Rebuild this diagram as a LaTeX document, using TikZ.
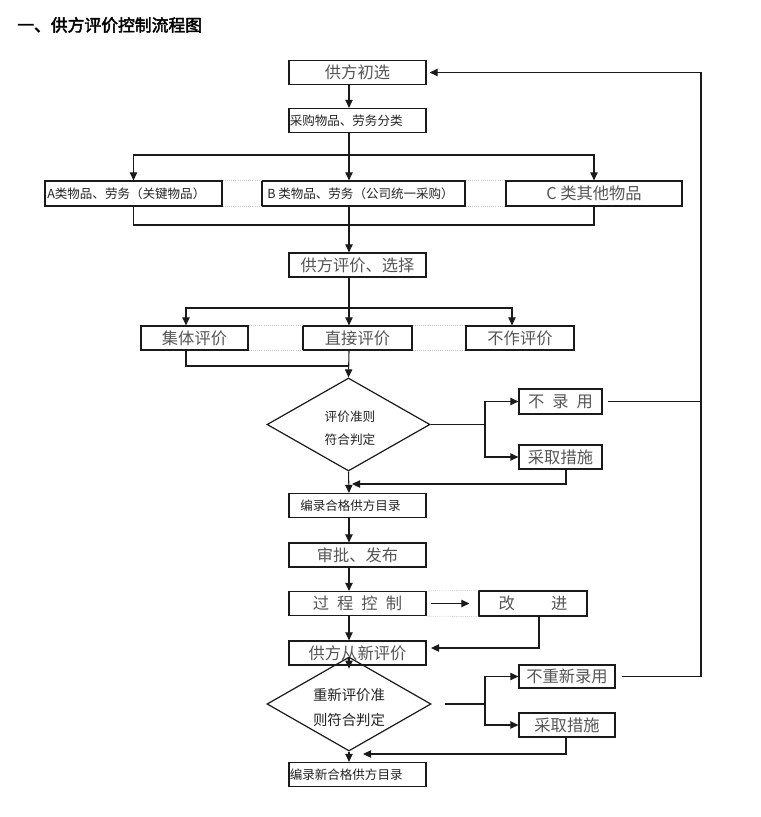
\documentclass[tikz,border=0pt]{standalone}
\usepackage{fontspec}
\setmainfont{Noto Sans CJK SC}
\newfontfamily\titlefont[FakeBold=2.5]{Noto Sans CJK SC}
\usetikzlibrary{shapes.geometric,arrows.meta,calc}
\definecolor{txt}{HTML}{555555}
\definecolor{dk}{HTML}{222222}
\definecolor{lnc}{HTML}{1A1A1A}
\definecolor{dotc}{HTML}{C4C4C4}
\begin{document}
\begin{tikzpicture}[x=0.75pt,y=-0.75pt,
  box/.style={draw=lnc, line width=0.9pt, rectangle, inner sep=0pt, text=txt, font=\fontsize{12.2}{14}\selectfont},
  colbox/.style={box, minimum width=102.75pt, minimum height=18pt},
  dia/.style={diamond, draw=lnc, line width=0.9pt, inner sep=0pt},
  smalltxt/.style={text=dk, inner sep=0pt, font=\fontsize{9.4}{11}\selectfont},
  arr/.style={draw=lnc, line width=0.8pt, -{Triangle[length=6pt,width=5.5pt]}},
  plain/.style={draw=lnc, line width=0.8pt},
  dotl/.style={draw=dotc, line width=0.6pt, densely dotted}]
\useasboundingbox (0,0) rectangle (760,817);

\node[anchor=west, inner sep=0pt, font=\titlefont\fontsize{12.6}{14}\selectfont] (title) at (17,25) {一、供方评价控制流程图};

% boxes
\node[colbox] (b1) at (357.5,72.5) {供方初选};
\node[colbox] (b2) at (357.5,120.5) {};
\node[smalltxt, anchor=west] (b2t) at (289.5,120.5) {采购物品、劳务分类};
\node[box, minimum width=132.75pt, minimum height=18.75pt] (ba) at (133.5,193.5) {};
\node[smalltxt, anchor=west] (bat) at (47,193.5) {A类物品、劳务（关键物品）};
\node[box, minimum width=152.25pt, minimum height=18.75pt] (bb) at (363.5,193.5) {};
\node[smalltxt, anchor=west] (bbt) at (267,193.5) {B 类物品、劳务（公司统一采购）};
\node[box, minimum width=132pt, minimum height=18.75pt] (bc) at (594,193.5) {C 类其他物品};
\node[colbox] (b3) at (357.5,265) {供方评价、选择};
\node[box, minimum width=80.25pt, minimum height=18pt] (e1) at (194.5,338) {集体评价};
\node[box, minimum width=81.75pt, minimum height=18pt] (e2) at (357.5,338) {直接评价};
\node[box, minimum width=81pt, minimum height=18pt] (e3) at (520,338) {不作评价};
\node[dia, minimum width=122.25pt, minimum height=69.75pt] (d1) at (348.5,424.5) {};
\node[smalltxt, align=center, font=\fontsize{9.5}{17.25}\selectfont] (d1t) at (350,428.5) {评价准则\\符合判定};
\node[box, minimum width=62.25pt, minimum height=18.75pt] (n1) at (560.5,401.5) {不\hspace{6pt}录\hspace{6pt}用};
\node[box, minimum width=62.25pt, minimum height=18pt] (t1) at (560.5,457) {采取措施};
\node[colbox] (b4) at (357.5,505.5) {};
\node[smalltxt, anchor=west] (b4t) at (300,505.5) {编录合格供方目录};
\node[colbox] (b5) at (357.5,555) {审批、发布};
\node[colbox] (b6) at (357.5,603.5) {过\hspace{6pt}程\hspace{6pt}控\hspace{6pt}制};
\node[box, minimum width=81pt, minimum height=18.75pt] (gj) at (533,603.5) {改\hspace{27pt}进};
\node[colbox] (b7) at (357.5,653) {供方从新评价};
\node[dia, minimum width=123pt, minimum height=70.5pt] (d2) at (349,704) {};
\node[smalltxt, align=center, font=\fontsize{10.8}{18.75}\selectfont] (d2t) at (349,707.5) {重新评价准\\则符合判定};
\node[box, minimum width=72pt, minimum height=17.25pt] (nn) at (567,676.5) {不重新录用};
\node[box, minimum width=72pt, minimum height=18pt] (t2) at (567,725) {采取措施};
\node[colbox] (b8) at (357.5,774.5) {};
\node[smalltxt, anchor=west] (b8t) at (289.5,774.5) {编录新合格供方目录};

% faint dotted joins
\draw[dotl] (ba.north east) -- (bb.north west);
\draw[dotl] (ba.south east) -- (bb.south west);
\draw[dotl] (bb.north east) -- (bc.north west);
\draw[dotl] (bb.south east) -- (bc.south west);
\draw[dotl] (e1.north east) -- (e2.north west);
\draw[dotl] (e1.south east) -- (e2.south west);
\draw[dotl] (e2.north east) -- (e3.north west);
\draw[dotl] (e2.south east) -- (e3.south west);
\draw[dotl] (b6.north east) -- (gj.north west);
\draw[dotl] (b6.south east) -- (gj.south west);

% helper coordinates
\coordinate (sp) at (349,0);
\coordinate (jx) at (186,0);
\coordinate (kx) at (512,0);
\coordinate (R) at (701,0);
\coordinate (tx) at (566,0);
\coordinate (gx) at (539,0);
\coordinate (s1) at (349,155);
\coordinate (m1) at (349,225);
\coordinate (s2) at (349,308);
\coordinate (m2) at (349,366);
\coordinate (br1) at (485,424.5);
\coordinate (m3) at (352,484);
\coordinate (m4) at (431,648);
\coordinate (br2) at (485,704);
\coordinate (m5) at (363,754);

% connectors
\draw[arr] (b1.south -| sp) -- (b2.north -| sp);
\draw[plain] (b2.south -| sp) -- (s1);
\draw[arr] (s1) -| (ba.north);
\draw[arr] (s1) -- (bb.north -| sp);
\draw[arr] (s1) -| (bc.north);
\draw[plain] (ba.south) |- (m1) -| (bc.south);
\draw[arr] (bb.south -| sp) -- (b3.north -| sp);
\draw[plain] (b3.south -| sp) -- (s2);
\draw[arr] (s2) -| (e1.north -| jx);
\draw[arr] (s2) -- (e2.north -| sp);
\draw[arr] (s2) -| (e3.north -| kx);
\draw[plain] (e1.south -| jx) |- (m2);
\draw[arr] (e2.south -| sp) -- (d1.north);
\draw[plain] (d1.east) -- (br1);
\draw[arr] (br1) |- (n1.west);
\draw[arr] (br1) |- (t1.west);
\draw[plain] ($(n1.east)+(5,0)$) -- (n1.east -| R);
\draw[plain] ($(nn.east)+(6,0)$) -- (nn.east -| R);
\draw[arr] (nn.east -| R) -- (b1.east -| R) -- ($(b1.east)+(3,0)$);
\draw[arr] (t1.south -| tx) |- (m3);
\draw[arr] (d1.south) -- (b4.north -| sp);
\draw[arr] (b4.south -| sp) -- (b5.north -| sp);
\draw[arr] (b5.south -| sp) -- (b6.north -| sp);
\draw[arr] (b6.south -| sp) -- (b7.north -| sp);
\draw[arr] ($(b6.east)+(4,0)$) -- ($(gj.west)+(-9,0)$);
\draw[arr] (gj.south -| gx) |- (m4);
\draw[arr] ($(b7.south -| sp)+(0,-8)$) -- ($(b7.south -| sp)+(0,3)$);
\draw[plain] ($(d2.east)+(13,0)$) -- (br2);
\draw[arr] (br2) |- (nn.west);
\draw[arr] (br2) |- (t2.west);
\draw[arr] (t2.south -| tx) |- (m5);
\draw[arr] (d2.south) -- (b8.north -| sp);
\end{tikzpicture}
\end{document}
